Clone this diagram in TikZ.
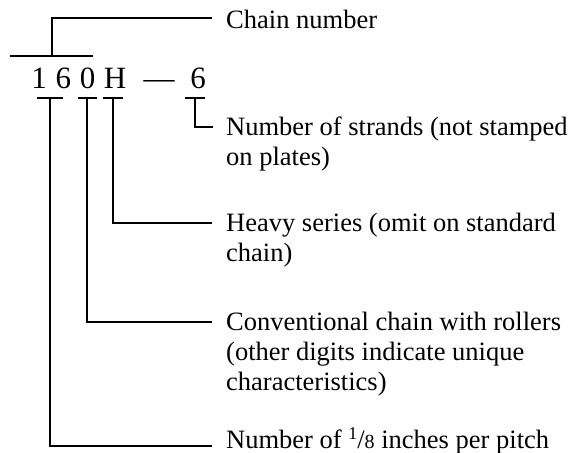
\documentclass[tikz,border=0pt]{standalone}
\usepackage{fontspec}
\setmainfont{Liberation Serif}
\usetikzlibrary{positioning}
\newcommand{\eighth}{\raisebox{0.33em}{\fontsize{18}{18}\selectfont 1}/{\fontsize{20}{20}\selectfont 8}}
\tikzset {
  digit/.style = {inner sep=0pt, anchor=base, font=\fontsize{31}{31}\selectfont},
  desc/.style = {inner sep=0pt, anchor=base west, align=left, font=\fontsize{26.5}{30}\selectfont},
  line/.style = {line width=1.4pt, color=black},
  bar/.style = {line width=1.4pt, color=black}
}
\begin{document}
\begin{tikzpicture}[x=1pt, y=-1pt]
    \useasboundingbox (0,0) rectangle (571,453);

    % the chain number
    \node[digit, name=d1] (d1) at (39,88) {1};
    \node[digit, name=d6] (d6) at (63.5,88) {6};
    \node[digit, name=d0] (d0) at (87.5,88) {0};
    \node[digit, name=dH] (dH) at (115,88) {H};
    \node[digit, name=dash] (dash) at (159,88) {---};
    \node[digit, name=ds] (ds) at (198,88) {6};

    % descriptions (base = last line)
    \node[desc, name=chain] (chain) at (226,28) {Chain number};
    \node[desc, name=strands] (strands) at (226,165) {Number of strands (not stamped\\on plates)};
    \node[desc, name=heavy] (heavy) at (226,261) {Heavy series (omit on standard\\chain)};
    \node[desc, name=conv] (conv) at (226,390) {Conventional chain with rollers\\(other digits indicate unique\\characteristics)};
    \node[desc, name=pitch] (pitch) at (226,448) {Number of \eighth\ inches per pitch};

    \coordinate (top) at (52,56);
    \coordinate (t16) at (50,98);
    \coordinate (t0) at (87,98);
    \coordinate (tH) at (113,98);
    \coordinate (ts) at (195,98);

    \draw[bar] ([xshift=-42pt]top) -- ([xshift=41pt]top);
    \draw[bar] ([xshift=-13pt]t16) -- ([xshift=13pt]t16);
    \draw[bar] ([xshift=-9pt]t0) -- ([xshift=10pt]t0);
    \draw[bar] ([xshift=-10pt]tH) -- ([xshift=10pt]tH);
    \draw[bar] ([xshift=-10pt]ts) -- ([xshift=10pt]ts);

    \draw[line] (top) |- ([xshift=-14pt, yshift=10pt]chain.base west);
    \draw[line] (ts) |- ([xshift=-13pt, yshift=38pt]strands.base west);
    \draw[line] (tH) |- ([xshift=-14pt, yshift=38pt]heavy.base west);
    \draw[line] (t0) |- ([xshift=-14pt, yshift=68pt]conv.base west);
    \draw[line] (t16) |- ([xshift=-14pt, yshift=2pt]pitch.base west);

\end{tikzpicture}
\end{document}
